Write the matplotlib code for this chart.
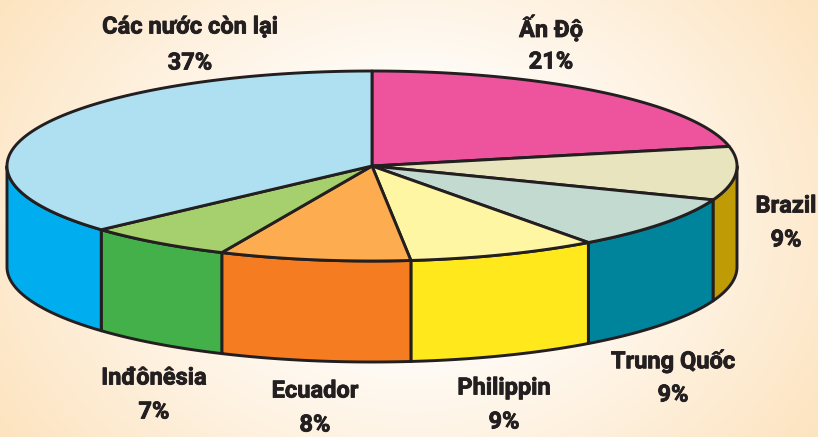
import numpy as np
import matplotlib
matplotlib.use('Agg')
import matplotlib.pyplot as plt
import matplotlib.patheffects as pe

# slice names and printed percentages
names = ['Ấn Độ', 'Brazil', 'Trung Quốc', 'Philippin', 'Ecuador', 'Inđônêsia', 'Các nước còn lại']
printed = [21, 9, 9, 9, 8, 7, 37]
# shares as drawn (they differ a little from the printed ones)
drawn = [21.7, 9.1, 9.1, 8.4, 8.45, 6.55, 36.7]

top_colors = ['#EE549D', '#E8E4BE', '#C3DAD1', '#FFF6A3', '#FDAD50', '#A6D06E', '#AFE0F1']
side_colors = ['#EE549D', '#BF9B05', '#00849C', '#FFE81C', '#F57C20', '#43B04A', '#00AEEF']

label_x = [551, 786, 673, 504, 315, 154, 190]
label_y = [28, 206, 361, 388, 391, 378, 27]
label_gap = [34, 34, 34, 34, 34, 34, 36]

cx, cy = 372, 166  # ellipse centre in pixels
rx, ry = 365, 95
depth = 101
ink = '#231F20'

fig = plt.figure(figsize=(8.18, 4.37), dpi=100)
ax = fig.add_axes([0, 0, 1, 1])
ax.set_xlim(0, 818)
ax.set_ylim(437, 0)
ax.axis('off')

# background: white in the middle going to pale orange in the corners
yy, xx = np.mgrid[0:437, 0:818]
d = np.sqrt(((xx - 410) / 410.0) ** 2 + ((yy - 215) / 330.0) ** 2)
t = np.clip((d - 0.3) / 0.95, 0, 1)[..., None]
bg = (1 - t) * np.array([1.0, 1.0, 1.0]) + t * np.array([253, 226, 188]) / 255
ax.imshow(bg, extent=[0, 818, 437, 0], aspect='auto', zorder=0)

ends = 90 - np.cumsum(drawn) * 3.6
starts = np.r_[90, ends[:-1]]


def rim(a, b, shift=0):
    th = np.radians(np.linspace(a, b, 120))
    return cx + rx * np.cos(th), cy - ry * np.sin(th) + shift


# side walls, only the part of each slice below the horizon
for a, b, col in zip(starts, ends, side_colors):
    s, e = min(a, 0), max(b, -180)
    if s <= e:
        continue
    x1, y1 = rim(s, e)
    x2, y2 = rim(e, s, depth)
    ax.fill(np.r_[x1, x2], np.r_[y1, y2], fc=col, ec=ink, lw=2.1, joinstyle='round', zorder=2)

# top face
for a, b, col in zip(starts, ends, top_colors):
    x1, y1 = rim(a, b)
    ax.fill(np.r_[cx, x1], np.r_[cy, y1], fc=col, ec=ink, lw=2.1, joinstyle='round', zorder=3)

# thin stroke to get the heavier look of the original lettering
heavy = [pe.withStroke(linewidth=0.6, foreground=ink)]
for name, pct, x, y, gap in zip(names, printed, label_x, label_y, label_gap):
    ax.text(x, y, name, ha='center', va='center', fontsize=17, fontweight='bold',
            family=['Roboto', 'DejaVu Sans'], color=ink, zorder=4, path_effects=heavy)
    ax.text(x, y + gap, '%d%%' % pct, ha='center', va='center', fontsize=17, fontweight='bold',
            family=['Roboto', 'DejaVu Sans'], color=ink, zorder=4, path_effects=heavy)

fig.savefig('out.png', dpi=100)
